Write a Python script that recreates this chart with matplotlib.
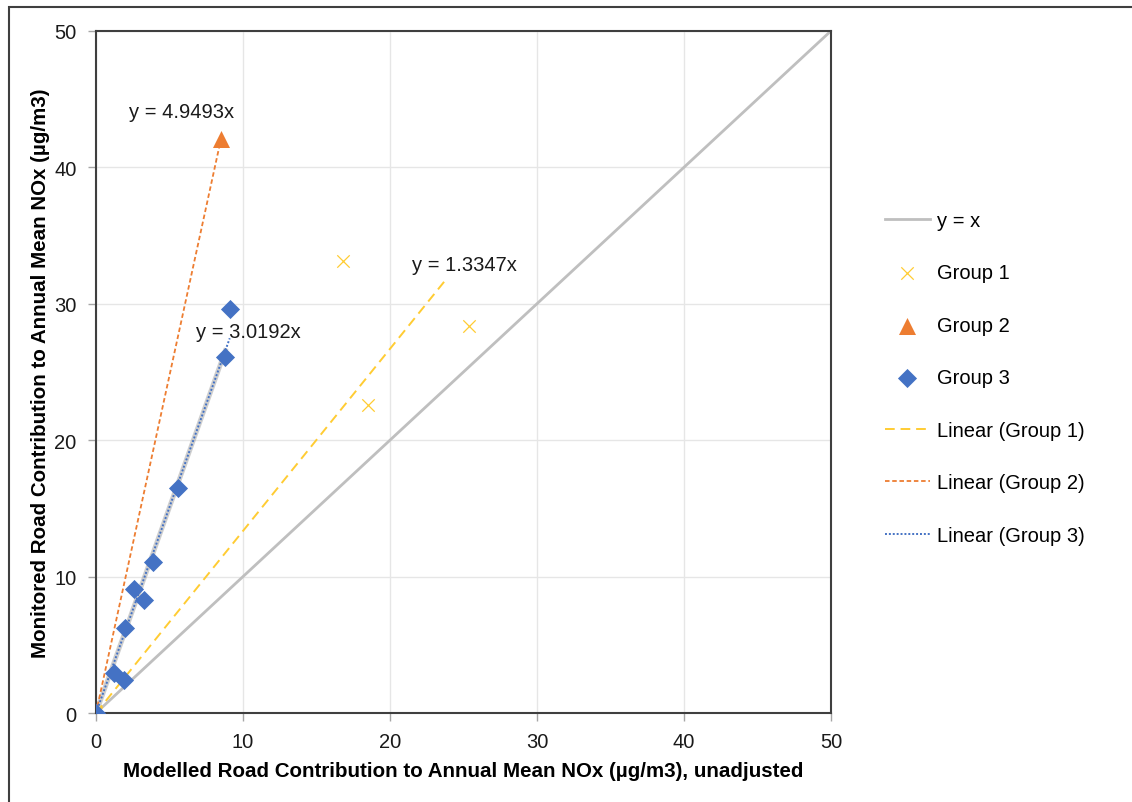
"""Monitored vs modelled road NOx contribution, with per-group linear fits through the origin."""

import matplotlib

matplotlib.use("Agg")
import matplotlib.pyplot as plt
import numpy as np
from matplotlib.patches import Rectangle

plt.rcParams["font.family"] = ["Liberation Sans", "DejaVu Sans"]

# data
group1_x = [0.0, 16.8, 18.5, 25.4]
group1_y = [0.0, 33.1, 22.6, 28.4]
group2_x = [0.0, 8.5]
group2_y = [0.0, 42.1]
group3_x = [0.0, 1.2, 1.9, 2.0, 2.6, 3.3, 3.9, 5.6, 8.8, 9.1]
group3_y = [0.0, 2.9, 2.4, 6.2, 9.1, 8.3, 11.1, 16.5, 26.1, 29.6]
slopes = [1.3347, 4.9493, 3.0192]
trend_xmax = [23.9, 8.5, 9.1]
eq_pos = [(25.1, 32.9), (5.8, 44.1), (10.4, 28.0)]

YELLOW = "#FFCC33"
ORANGE = "#ED7D31"
BLUE = "#4472C4"
GREY = "#BFBFBF"
SPINE = "#3F3F3F"

fig = plt.figure(figsize=(11.32, 8.03), dpi=100)
ax = fig.add_axes([0.0848, 0.1108, 0.6492, 0.8494])

ax.plot([0, 50], [0, 50], color=GREY, lw=2, label="y = x", zorder=2)

ax.scatter(group1_x, group1_y, marker="x", s=80, color=YELLOW, linewidths=0.9,
           label="Group 1", zorder=4)
ax.scatter(group2_x, group2_y, marker="^", s=150, color=ORANGE, linewidths=0,
           label="Group 2", zorder=4)
ax.scatter(group3_x, group3_y, marker="D", s=95, color=BLUE, linewidths=0,
           label="Group 3", zorder=5)

styles = [
    dict(color=YELLOW, ls=(0, (5, 3)), lw=1.4, label="Linear (Group 1)"),
    dict(color=ORANGE, ls=(0, (2.5, 1.5)), lw=1.3, label="Linear (Group 2)"),
    dict(color=BLUE, ls=(0, (1, 1)), lw=1.4, label="Linear (Group 3)"),
]
# faint grey underlay seen along the group 3 fit
xs = np.array([0, sorted(group3_x)[-2]])
ax.plot(xs, slopes[2] * xs, color="#A6A6A6", lw=3.5, alpha=0.55, zorder=3)

for slope, xmax, st in zip(slopes, trend_xmax, styles):
    xs = np.array([0, xmax])
    ax.plot(xs, slope * xs, zorder=3.5, **st)

for slope, (tx, ty) in zip(slopes, eq_pos):
    ax.text(tx, ty, f"y = {slope:.4f}x", fontsize=14.5, ha="center", va="center",
            color="#1a1a1a", zorder=6)

ax.set_xlim(0, 50)
ax.set_ylim(0, 50)
ax.set_xticks(range(0, 51, 10))
ax.set_yticks(range(0, 51, 10))
ax.grid(True, color="#E6E6E6", lw=1)
ax.set_axisbelow(True)
for sp in ax.spines.values():
    sp.set_color(SPINE)
    sp.set_linewidth(1.5)
ax.tick_params(direction="out", length=6, width=1, color="#A6A6A6",
               labelsize=14.5, labelcolor="#1a1a1a", pad=8)

ax.set_xlabel("Modelled Road Contribution to Annual Mean NOx (µg/m3), unadjusted",
              fontsize=14.8, fontweight="bold", labelpad=7)
ax.set_ylabel("Monitored Road Contribution to Annual Mean NOx (µg/m3)",
              fontsize=14.8, fontweight="bold", labelpad=3)

handles, labels = ax.get_legend_handles_labels()
order = ["y = x", "Group 1", "Group 2", "Group 3",
         "Linear (Group 1)", "Linear (Group 2)", "Linear (Group 3)"]
hmap = dict(zip(labels, handles))
fig.legend([hmap[k] for k in order], order, loc="upper left",
           bbox_to_anchor=(0.782, 0.736), frameon=False, fontsize=14.5,
           labelspacing=1.66, handlelength=2.2, handletextpad=0.35,
           borderpad=0, borderaxespad=0, scatterpoints=1)

fig.patches.append(Rectangle((0.008, -0.05), 1.1, 1.04, transform=fig.transFigure,
                             fill=False, edgecolor=SPINE, lw=1.5))

fig.savefig("out.png", dpi=100)
